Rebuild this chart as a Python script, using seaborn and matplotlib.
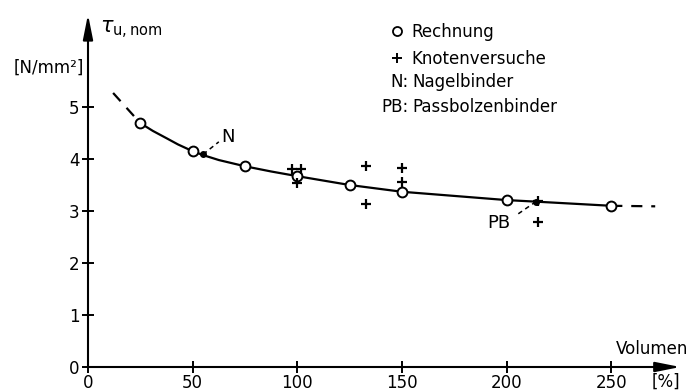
import numpy as np
import pandas as pd
import matplotlib
matplotlib.use('Agg')
import matplotlib.pyplot as plt
from matplotlib.lines import Line2D
import seaborn as sns

sns.set_style('ticks')
plt.rcParams['font.family'] = ['DejaVu Sans']
plt.rcParams['text.color'] = 'k'
plt.rcParams['xtick.color'] = 'k'
plt.rcParams['ytick.color'] = 'k'

# Rechnung (computed values)
calc_vol = [25, 50, 75, 100, 125, 150, 200, 250]
calc_tau = [4.69, 4.15, 3.86, 3.67, 3.50, 3.37, 3.21, 3.10]

# points
curve_vol = [25, 31, 37.5, 43, 50, 55, 62.5, 75, 87.5, 100, 125, 150, 200, 214, 250]
curve_tau = [4.69, 4.54, 4.40, 4.28, 4.15, 4.075, 3.98, 3.86, 3.76, 3.67, 3.50, 3.37,
             3.21, 3.18, 3.10]

# dashed extensions of the curve
ext_left_vol = [12, 25]
ext_left_tau = [5.27, 4.69]
ext_right_vol = [250, 271]
ext_right_tau = [3.10, 3.09]

# Knotenversuche (tests)
test_vol = [97.5, 102, 100, 133, 133, 150, 150, 215, 215]
test_tau = [3.80, 3.80, 3.54, 3.87, 3.13, 3.83, 3.56, 3.20, 2.79]

# Nagelbinder / Passbolzenbinder
nail_vol, nail_tau = 55, 4.09
pb_vol, pb_tau = 214, 3.18

xticks = [0, 50, 100, 150, 200, 250]
yticks = [0, 1, 2, 3, 4, 5]

W, H = 692, 391
fig = plt.figure(figsize=(W / 100, H / 100), dpi=100)
ax = fig.add_axes([88 / W, 24 / H, 290 * 2.093 / W, 6.9 * 52 / H])
ax.set_xlim(0, 290)
ax.set_ylim(0, 6.9)

# curve
sns.lineplot(x=curve_vol, y=curve_tau, ax=ax, color='k', lw=1.6, sort=False)
ax.plot(ext_left_vol, ext_left_tau, color='k', lw=1.6, dashes=(5, 4))
ax.plot(ext_right_vol, ext_right_tau, color='k', lw=1.6, dashes=(5, 4))

sns.scatterplot(x=calc_vol, y=calc_tau, ax=ax, marker='o', s=50,
                facecolor='white', edgecolor='k', linewidth=1.4, zorder=5)
sns.scatterplot(x=test_vol, y=test_tau, ax=ax, marker='+', s=55,
                color='k', linewidth=1.6, zorder=6)
ax.plot([nail_vol, pb_vol], [nail_tau, pb_tau], 'o', color='k', ms=4, zorder=6)

# labels N and PB with dashed leaders
ax.plot([nail_vol, 62.5], [nail_tau, 4.33], color='k', lw=1.1, dashes=(3, 2.5))
ax.text(67, 4.42, 'N', fontsize=13, ha='center', va='center')
ax.plot([pb_vol, 205], [pb_tau, 2.93], color='k', lw=1.1, dashes=(3, 2.5))
ax.text(196.5, 2.77, 'PB', fontsize=13, ha='center', va='center')

# axes with arrows
for s in ax.spines.values():
    s.set_visible(False)
arrow = dict(arrowstyle='-|>,head_length=1.5,head_width=0.3', color='k',
             lw=1.5, shrinkA=0, shrinkB=0)
ax.annotate('', xy=(283, 0), xytext=(0, 0), arrowprops=arrow,
            annotation_clip=False)
ax.annotate('', xy=(0, 6.78), xytext=(0, 0), arrowprops=arrow,
            annotation_clip=False)

ax.set_xticks(xticks)
ax.set_yticks(yticks)
ax.tick_params(direction='inout', length=8, width=1.4, labelsize=12,
               color='k', labelcolor='k')
ax.tick_params(axis='x', pad=1)
ax.tick_params(axis='y', pad=2)

fig.text(100 / W, 1 - 30 / H, r'$\tau_{\mathrm{u,nom}}$', fontsize=15,
         ha='left', va='center')
fig.text(14 / W, 1 - 68 / H, '[N/mm²]', fontsize=12, ha='left', va='center')
fig.text(688 / W, 1 - 349 / H, 'Volumen', fontsize=12, ha='right', va='center')
fig.text(666 / W, 1 - 382 / H, '[%]', fontsize=12, ha='center', va='center')

# legend
handles = [Line2D([], [], ls='none', marker='o', ms=6.5, mfc='white', mec='k', mew=1.3),
           Line2D([], [], ls='none', marker='+', ms=7, color='k', mew=1.4)]
fig.legend(handles, ['Rechnung', 'Knotenversuche'], loc='upper left',
           bbox_to_anchor=(390 / W, 1 - 23 / H), frameon=False, fontsize=12,
           handlelength=0.8, handletextpad=0.5, borderpad=0, borderaxespad=0,
           labelspacing=0.55)
fig.text(409 / W, 1 - 82 / H, 'N:', fontsize=12, ha='right', va='center')
fig.text(412 / W, 1 - 82 / H, 'Nagelbinder', fontsize=12, ha='left', va='center')
fig.text(409 / W, 1 - 107 / H, 'PB:', fontsize=12, ha='right', va='center')
fig.text(412 / W, 1 - 107 / H, 'Passbolzenbinder', fontsize=12, ha='left', va='center')

fig.savefig('out.png', dpi=100)
